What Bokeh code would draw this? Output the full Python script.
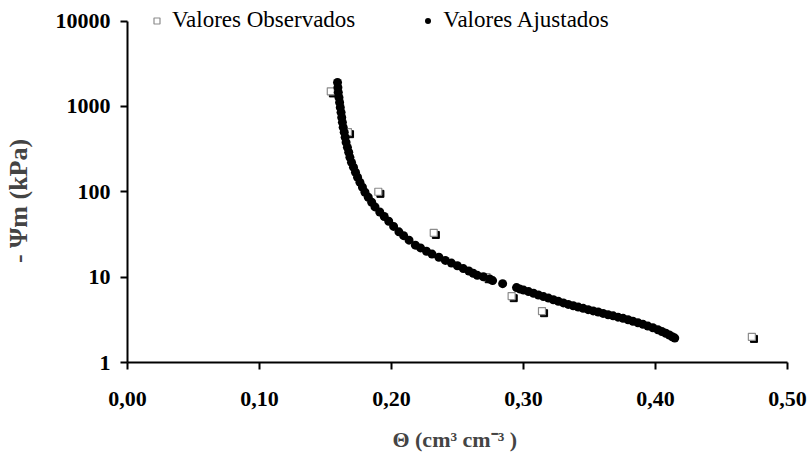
from bokeh.plotting import figure
from bokeh.models import Legend, LegendItem
from bokeh.embed import file_html
from bokeh.resources import INLINE

# Observed values
theta_obs = [0.154, 0.167, 0.190, 0.232, 0.272, 0.291, 0.314, 0.473]
psi_obs = [1500, 500, 100, 33, 10, 6, 4, 2]

# Fitted values
theta_fit = [0.1591, 0.1594, 0.1597, 0.1602, 0.1607, 0.1612, 0.1618, 0.1623, 0.1628, 0.1634,
             0.1642, 0.1649, 0.1656, 0.1666, 0.1676, 0.1685, 0.1697, 0.1712, 0.1727, 0.1743,
             0.1761, 0.1780, 0.1799, 0.1824, 0.1850, 0.1875, 0.1911, 0.1945, 0.1979, 0.2016,
             0.2056, 0.2092, 0.2133, 0.2181, 0.2220, 0.2265, 0.2307, 0.2359, 0.2408, 0.2454,
             0.2499, 0.2544, 0.2586, 0.2619, 0.2650, 0.2696, 0.2744, 0.2766, 0.2842, 0.2947,
             0.2970, 0.3000, 0.3038, 0.3076, 0.3113, 0.3151, 0.3189, 0.3226, 0.3264, 0.3302,
             0.3339, 0.3377, 0.3415, 0.3452, 0.3490, 0.3528, 0.3566, 0.3603, 0.3641, 0.3679,
             0.3716, 0.3754, 0.3792, 0.3829, 0.3867, 0.3905, 0.3942, 0.3980, 0.4018, 0.4048,
             0.4078, 0.4105, 0.4127, 0.4146]
psi_fit = [1909, 1668, 1459, 1274, 1114, 973, 851, 743, 650, 568,
           497, 434, 379, 331, 290, 253, 221, 194, 169, 148,
           129, 113, 98.7, 86.3, 75.4, 66.4, 58.0, 51.3, 45.2, 39.3,
           33.9, 30.6, 27.1, 23.7, 22.0, 20.1, 18.6, 17.1, 15.7, 14.6,
           13.6, 12.6, 11.8, 11.1, 10.5, 10.1, 9.48, 9.10, 8.39, 7.54,
           7.28, 7.05, 6.77, 6.47, 6.18, 5.92, 5.68, 5.43, 5.20, 4.99,
           4.79, 4.62, 4.46, 4.31, 4.16, 4.02, 3.90, 3.76, 3.63, 3.52,
           3.40, 3.29, 3.17, 3.04, 2.92, 2.80, 2.67, 2.55, 2.42, 2.31,
           2.20, 2.10, 2.00, 1.93]

x_ticks = [0.0, 0.1, 0.2, 0.3, 0.4, 0.5]
x_tick_labels = ["0,00", "0,10", "0,20", "0,30", "0,40", "0,50"]
y_ticks = [1, 10, 100, 1000, 10000]
y_tick_labels = ["1", "10", "100", "1000", "10000"]

legend_labels = ["Valores Observados", "Valores Ajustados"]
y_title = "- \u03a8m (kPa)\u2002\u2002\u2002"
x_title = "\u0398  (cm\u00b3 cm\u207b\u00b3 )"

FONT = "Liberation Serif"

# frame extends a little above the 10000 tick so the legend can sit there
p = figure(width=811, height=457, x_range=(0, 0.5), y_range=(1, 17385),
           y_axis_type="log", output_backend="svg", toolbar_location=None,
           min_border_left=124, min_border_right=24, min_border_top=0,
           min_border_bottom=95)
p.outline_line_color = None
p.xgrid.visible = False
p.ygrid.visible = False
p.background_fill_color = "white"
p.border_fill_color = "white"

# shadow squares (offset down-right by ~2 px)
shadow_x = [t + 0.0016 for t in theta_obs]
shadow_y = [v * 0.945 for v in psi_obs]
p.scatter(shadow_x, shadow_y, marker="square", size=7, fill_color="black",
          line_color="black", line_width=1)
r_obs = p.scatter(theta_obs, psi_obs, marker="square", size=7, fill_color="white",
                  line_color="#8c8c8c", line_width=1.2)
r_fit = p.scatter(theta_fit, psi_fit, marker="circle", size=9, fill_color="black",
                  line_color="black", line_width=0)

# axes
for ax in (p.xaxis[0], p.yaxis[0]):
    ax.axis_line_width = 2
    ax.axis_line_color = "black"
    ax.major_tick_line_width = 2
    ax.major_tick_line_color = "black"
    ax.major_tick_out = 7
    ax.major_tick_in = 0
    ax.minor_tick_out = 0
    ax.minor_tick_in = 0
    ax.minor_tick_line_color = None
    ax.major_label_text_font = FONT
    ax.major_label_text_font_style = "bold"
    ax.major_label_text_font_size = "22px"
    ax.major_label_text_color = "black"

p.xaxis.ticker = x_ticks
p.xaxis.major_label_overrides = {t: l for t, l in zip(x_ticks, x_tick_labels)}
p.xaxis.major_label_standoff = 22
p.xaxis.axis_label = x_title
p.xaxis.axis_label_text_font = FONT
p.xaxis.axis_label_text_font_style = "bold"
p.xaxis.axis_label_text_font_size = "22px"
p.xaxis.axis_label_standoff = 18

p.yaxis.ticker = y_ticks
p.yaxis.bounds = (1, 10000)
p.yaxis.major_label_overrides = {t: l for t, l in zip(y_ticks, y_tick_labels)}
p.yaxis.major_label_standoff = 10
p.yaxis.axis_label = y_title
p.yaxis.axis_label_text_font = FONT
p.yaxis.axis_label_text_font_style = "bold"
p.yaxis.axis_label_text_font_size = "26px"
p.yaxis.axis_label_standoff = 20

legend = Legend(items=[LegendItem(label=legend_labels[0], renderers=[r_obs]),
                       LegendItem(label=legend_labels[1], renderers=[r_fit])],
                location=(22, 329), orientation="horizontal",
                glyph_width=15, glyph_height=15, label_standoff=8, spacing=65,
                padding=0, margin=0, border_line_color=None,
                background_fill_alpha=0,
                label_text_font=FONT, label_text_font_size="23px",
                label_text_color="black")
p.add_layout(legend)

open("out.html", "w").write(file_html(p, INLINE))
